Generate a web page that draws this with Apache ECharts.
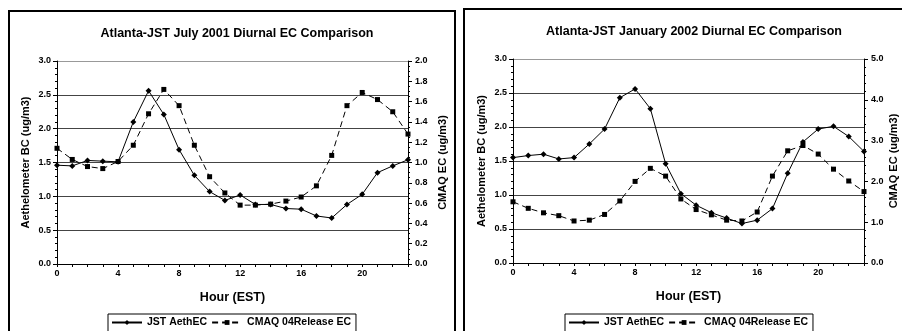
<!DOCTYPE html>
<html>
<head>
<meta charset="utf-8">
<script src="https://cdn.jsdelivr.net/npm/echarts@6/dist/echarts.min.js"></script>
<style>
  html, body { margin: 0; padding: 0; background: #fff; }
  #chart { width: 902px; height: 331px; }
</style>
</head>
<body>
<div id="chart"></div>
<script>
// hours of day (EST)
const hours = [0, 1, 2, 3, 4, 5, 6, 7, 8, 9, 10, 11, 12, 13, 14, 15, 16, 17, 18, 19, 20, 21, 22, 23];

// July 2001
const julAeth = [1.46, 1.45, 1.53, 1.52, 1.51, 2.10, 2.56, 2.21, 1.69, 1.31, 1.07, 0.94,
  1.02, 0.88, 0.88, 0.82, 0.81, 0.71, 0.68, 0.88, 1.03, 1.35, 1.45, 1.54];
const julCmaq = [1.14, 1.03, 0.96, 0.94, 1.01, 1.17, 1.48, 1.72, 1.56, 1.17, 0.86, 0.70,
  0.58, 0.58, 0.59, 0.62, 0.66, 0.77, 1.07, 1.56, 1.69, 1.62, 1.50, 1.28];

// January 2002
const janAeth = [1.55, 1.58, 1.60, 1.53, 1.55, 1.75, 1.97, 2.43, 2.56, 2.27, 1.46, 1.02,
  0.85, 0.74, 0.66, 0.58, 0.63, 0.80, 1.32, 1.78, 1.97, 2.01, 1.86, 1.64];
const janCmaq = [1.50, 1.34, 1.23, 1.16, 1.03, 1.05, 1.19, 1.52, 2.00, 2.32, 2.13, 1.57,
  1.31, 1.18, 1.05, 1.03, 1.25, 2.13, 2.75, 2.88, 2.67, 2.30, 2.01, 1.75];

const titles = ['Atlanta-JST July 2001 Diurnal EC Comparison', 'Atlanta-JST January 2002 Diurnal EC Comparison'];
const seriesNames = ['JST AethEC', 'CMAQ 04Release EC'];

const chart = echarts.init(document.getElementById('chart'));
const FONT = 'Liberation Sans, Arial, sans-serif';

const pairs = (arr) => arr.map((v, i) => [hours[i], v]);

const grids = [
  { left: 57, top: 61, right: 494, bottom: 67 },
  { left: 513, top: 59, right: 38, bottom: 68 }
];

function xAxis(idx) {
  return {
    type: 'value', gridIndex: idx, min: 0, max: 23, interval: 1,
    name: 'Hour (EST)', nameLocation: 'middle', nameGap: 27,
    nameTextStyle: { fontFamily: FONT, fontWeight: 'bold', fontSize: 12.5, color: '#000' },
    axisLine: { lineStyle: { color: '#000', width: 1 } },
    axisTick: { length: 3, lineStyle: { color: '#000' } },
    axisLabel: {
      margin: 5, fontFamily: FONT, fontWeight: 'bold', fontSize: 9, color: '#000',
      formatter: (v) => (v % 4 === 0 && v < 23 ? String(v) : '')
    },
    splitLine: { show: false }
  };
}

function leftAxis(idx, gridColor) {
  return {
    type: 'value', gridIndex: idx, position: 'left', min: 0, max: 3, interval: 0.5,
    name: 'Aethelometer BC (ug/m3)', nameLocation: 'middle', nameRotate: 90, nameGap: 26,
    nameTextStyle: { fontFamily: FONT, fontWeight: 'bold', fontSize: 11, color: '#000' },
    axisLine: { show: true, lineStyle: { color: '#000' } },
    axisTick: { show: true, length: 4, lineStyle: { color: '#000' } },
    minorTick: { show: true, splitNumber: 5, length: 2, lineStyle: { color: '#000' } },
    axisLabel: { margin: 6, fontFamily: FONT, fontWeight: 'bold', fontSize: 9, color: '#000',
      formatter: (v) => v.toFixed(1) },
    splitLine: { show: true, lineStyle: { color: gridColor, width: 1 } }
  };
}

function rightAxis(idx, max, interval, minorSplit, gap) {
  return {
    type: 'value', gridIndex: idx, position: 'right', min: 0, max: max, interval: interval,
    name: 'CMAQ EC (ug/m3)', nameLocation: 'middle', nameRotate: 90, nameGap: gap,
    nameTextStyle: { fontFamily: FONT, fontWeight: 'bold', fontSize: 11, color: '#000' },
    axisLine: { show: true, lineStyle: { color: '#000' } },
    axisTick: { show: true, length: 4, lineStyle: { color: '#000' } },
    minorTick: { show: true, splitNumber: minorSplit, length: 2, lineStyle: { color: '#000' } },
    axisLabel: { margin: 7, fontFamily: FONT, fontWeight: 'bold', fontSize: 9, color: '#000',
      formatter: (v) => v.toFixed(1) },
    splitLine: { show: false }
  };
}

function aethSeries(data, x, y) {
  return {
    name: seriesNames[0], type: 'line', xAxisIndex: x, yAxisIndex: y, data: pairs(data),
    symbol: 'diamond', symbolSize: 6, showAllSymbol: true,
    lineStyle: { color: '#000', width: 1 }, itemStyle: { color: '#000' }
  };
}

function cmaqSeries(data, x, y) {
  return {
    name: seriesNames[1], type: 'line', xAxisIndex: x, yAxisIndex: y, data: pairs(data),
    symbol: 'rect', symbolSize: 5, showAllSymbol: true,
    lineStyle: { color: '#000', width: 1, type: [6, 4] }, itemStyle: { color: '#000' }
  };
}

function legend(left) {
  return {
    data: seriesNames, left: left, top: 314, orient: 'horizontal',
    itemWidth: 30, itemHeight: 6, itemGap: 4,
    borderColor: '#000', borderWidth: 1, padding: [3, 5, 12, 3],
    textStyle: { fontFamily: FONT, fontWeight: 'bold', fontSize: 10.5, color: '#000' },
    selectedMode: false
  };
}

const gridLineColors = ['#000', '#444', '#444', '#444', '#444', '#444', '#999'];

const option = {
  animation: false,
  backgroundColor: '#fff',
  title: [
    { text: titles[0], left: 232, top: 22, textAlign: 'center',
      textStyle: { fontFamily: FONT, fontWeight: 'bold', fontSize: 12.5, color: '#000' } },
    { text: titles[1], left: 689, top: 20, textAlign: 'center',
      textStyle: { fontFamily: FONT, fontWeight: 'bold', fontSize: 12.5, color: '#000' } }
  ],
  grid: grids,
  xAxis: [xAxis(0), xAxis(1)],
  yAxis: [
    leftAxis(0, gridLineColors),
    rightAxis(0, 2, 0.2, 4, 29),
    leftAxis(1, gridLineColors),
    rightAxis(1, 5, 1, 5, 24)
  ],
  legend: [legend(108), legend(565)],
  series: [
    aethSeries(julAeth, 0, 0),
    cmaqSeries(julCmaq, 0, 1),
    aethSeries(janAeth, 1, 2),
    cmaqSeries(janCmaq, 1, 3)
  ],
  graphic: [
    { type: 'rect', shape: { x: 9, y: 11, width: 446, height: 340 },
      style: { fill: 'none', stroke: '#000', lineWidth: 2 }, silent: true },
    { type: 'rect', shape: { x: 464, y: 9, width: 450, height: 340 },
      style: { fill: 'none', stroke: '#000', lineWidth: 2 }, silent: true }
  ]
};

chart.setOption(option);
</script>
</body>
</html>
